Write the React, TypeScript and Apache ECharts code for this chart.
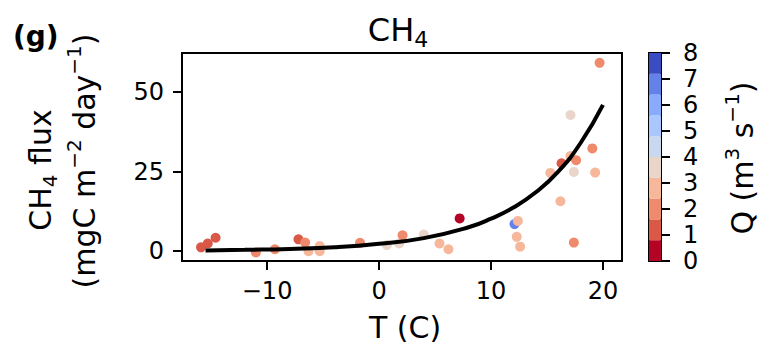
import React, { useEffect, useRef } from "react";
import * as echarts from "echarts";

// Observations: temperature (C), CH4 flux (mgC m-2 day-1), discharge Q (m3 s-1)
const tempC = [
  -15.9, -15.3, -14.6, -11.0, -9.3, -7.2, -6.6, -6.3, -5.3, -5.3, -1.7, 0.7, 1.8,
  2.1, 4.0, 5.4, 6.2, 7.2, 12.1, 12.4, 12.3, 12.6, 15.3, 16.2, 16.3, 17.1, 17.1,
  17.6, 17.4, 17.4, 19.05, 19.3, 19.7,
];
const fluxCH4 = [
  1.2, 2.4, 4.2, -0.4, 0.6, 3.7, 2.7, 0.0, 1.6, 0.0, 2.6, 1.9, 2.4, 5.0, 5.2, 2.4,
  0.6, 10.3, 8.5, 9.5, 4.5, 1.4, 24.6, 15.7, 27.6, 42.8, 29.9, 28.6, 24.9, 2.7,
  32.3, 24.7, 59.2,
];
const dischargeQ = [
  1.2, 1.2, 1.2, 2.0, 2.0, 1.2, 2.0, 2.8, 2.8, 2.8, 2.0, 3.6, 3.6, 2.0, 3.6, 2.8,
  2.8, 0.4, 6.8, 2.8, 2.8, 2.8, 2.8, 2.8, 1.2, 3.6, 2.8, 2.0, 3.6, 2.0, 2.0, 2.8,
  2.0,
];

// Fitted exponential curve
const fitT = [-15.5, -12, -8, -4, 0, 4, 8, 10, 12, 14, 16, 18, 20];
const fitF = [0.2, 0.4, 0.7, 1.2, 2.3, 4.1, 7.5, 10.2, 13.7, 18.5, 25, 34, 46];

// Axis ticks
const xTicks = [-10, 0, 10, 20];
const yTicks = [0, 25, 50];

// Colorbar: 10 discrete bands over Q = 0..8 (bottom to top)
const qBandEdges = [0, 0.8, 1.6, 2.4, 3.2, 4.0, 4.8, 5.6, 6.4, 7.2, 8.0];
const qBandColors = [
  "#b40426", "#d95847", "#ef8a6c", "#f6b79b", "#e9d5ca",
  "#c9d7ef", "#a9c6fd", "#88abfd", "#6282ea", "#3b4cc0",
];

const FONT = "DejaVu Sans";

export default function App() {
  const ref = useRef<HTMLDivElement>(null);
  useEffect(() => {
    if (!ref.current) return;
    const chart = echarts.init(ref.current, null, { renderer: "svg" });
    const scatterData = tempC.map((t, i) => [t, fluxCH4[i], dischargeQ[i]]);
    const fitData = fitT.map((t, i) => [t, fitF[i]]);

    const bandSeries = qBandColors.map((c, i) => ({
      type: "bar",
      xAxisIndex: 1,
      yAxisIndex: 1,
      stack: "cb",
      barWidth: "100%",
      data: [qBandEdges[i + 1] - qBandEdges[i]],
      itemStyle: { color: c },
      silent: true,
    }));

    const mkRich = (size: number) => ({
      main: { fontSize: size, fontFamily: FONT, lineHeight: 40, fill: "#000" },
      sub: { fontSize: Math.round(size * 0.68), fontFamily: FONT, lineHeight: 20, verticalAlign: "bottom", fill: "#000" },
      sup: { fontSize: Math.round(size * 0.68), fontFamily: FONT, lineHeight: 20, verticalAlign: "top", fill: "#000" },
    });
    const subRich = mkRich(30);

    chart.setOption({
      animation: false,
      grid: [
        { left: 182, right: 144, top: 53, bottom: 86, show: true, borderColor: "#000", borderWidth: 2, backgroundColor: "#fff" },
        { left: 649, right: 105, top: 53, bottom: 86, show: true, borderColor: "#000", borderWidth: 2 },
      ],
      xAxis: [
        {
          type: "value",
          gridIndex: 0,
          min: -17.6,
          max: 21.7,
          axisLine: { show: true, onZero: false, lineStyle: { color: "#000", width: 2 } },
          axisTick: { show: true, customValues: xTicks, length: 9, lineStyle: { color: "#000", width: 2 } },
          axisLabel: { customValues: xTicks, fontSize: 24, fontFamily: FONT, color: "#000", margin: 18,
            formatter: (v: number) => (v < 0 ? "\u2212" + Math.abs(v) : String(v)) },
          splitLine: { show: false },
        },
        {
          type: "category",
          gridIndex: 1,
          data: ["Q"],
          show: false,
        },
      ],
      yAxis: [
        {
          type: "value",
          gridIndex: 0,
          min: -3.1,
          max: 62.3,
          axisLine: { show: true, onZero: false, lineStyle: { color: "#000", width: 2 } },
          axisTick: { show: true, customValues: yTicks, length: 9, lineStyle: { color: "#000", width: 2 } },
          axisLabel: { customValues: yTicks, fontSize: 24, fontFamily: FONT, color: "#000", margin: 18 },
          splitLine: { show: false },
        },
        {
          type: "value",
          gridIndex: 1,
          position: "right",
          min: 0,
          max: 8,
          interval: 1,
          axisLine: { show: true, onZero: false, lineStyle: { color: "#000", width: 2 } },
          axisTick: { show: true, length: 9, lineStyle: { color: "#000", width: 2 } },
          axisLabel: { fontSize: 24, fontFamily: FONT, color: "#000", margin: 22 },
          splitLine: { show: false },
        },
      ],
      visualMap: {
        type: "piecewise",
        show: false,
        dimension: 2,
        seriesIndex: 0,
        pieces: qBandColors.map((c, i) => ({ gte: qBandEdges[i], lt: qBandEdges[i + 1], color: c })),
      },
      series: [
        {
          type: "scatter",
          xAxisIndex: 0,
          yAxisIndex: 0,
          data: scatterData,
          symbolSize: 10,
          itemStyle: { opacity: 1 },
          z: 2,
        },
        {
          type: "line",
          xAxisIndex: 0,
          yAxisIndex: 0,
          data: fitData,
          smooth: true,
          showSymbol: false,
          lineStyle: { color: "#000", width: 4 },
          z: 3,
        },
        ...bandSeries,
      ],
      graphic: [
        {
          type: "text",
          left: 13,
          top: 22,
          style: { text: "(g)", fontSize: 28, fontWeight: "bold", fontFamily: FONT, fill: "#000" },
        },
        {
          type: "text",
          x: 398,
          y: 30,
          style: {
            text: "{main|CH}{sub|4}",
            align: "center",
            verticalAlign: "middle",
            rich: mkRich(32),
          },
        },
        {
          type: "text",
          x: 405,
          y: 327,
          style: {
            text: "T (C)",
            fontSize: 30,
            fontFamily: FONT,
            fill: "#000",
            align: "center",
            verticalAlign: "middle",
          },
        },
        {
          type: "text",
          x: 40,
          y: 170,
          rotation: Math.PI / 2,
          style: {
            text: "{main|CH}{sub|4}{main| flux}",
            align: "center",
            verticalAlign: "middle",
            rich: subRich,
          },
        },
        {
          type: "text",
          x: 84,
          y: 161,
          rotation: Math.PI / 2,
          style: {
            text: "{main|(mgC m}{sup|\u22122}{main| day}{sup|\u22121}{main|)}",
            align: "center",
            verticalAlign: "middle",
            rich: subRich,
          },
        },
        {
          type: "text",
          x: 742,
          y: 158,
          rotation: Math.PI / 2,
          style: {
            text: "{main|Q (m}{sup|3}{main| s}{sup|\u22121}{main|)}",
            align: "center",
            verticalAlign: "middle",
            rich: subRich,
          },
        },
      ],
    });
    return () => chart.dispose();
  }, []);
  return <div ref={ref} style={{ position: "absolute", left: 0, top: 0, width: 766, height: 347 }} />;
}
